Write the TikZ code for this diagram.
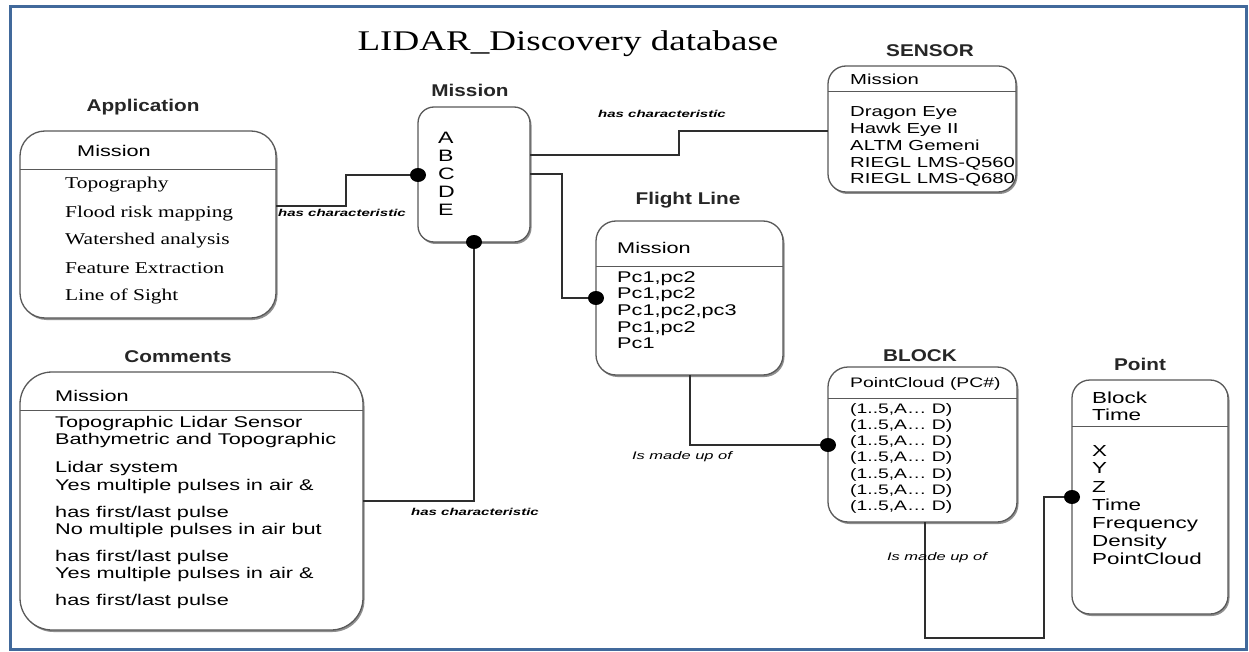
\documentclass[tikz,border=0pt]{standalone}
\usepackage{fontspec}
\usetikzlibrary{shadows,calc}
\newfontfamily\wsans[FakeStretch=1.4]{Liberation Sans}
\newfontfamily\wserif[FakeStretch=1.3]{Liberation Serif}
\newfontfamily\hsans[FakeStretch=1.22]{Liberation Sans}
\newfontfamily\lsans[FakeStretch=1.5]{Liberation Sans}
\definecolor{frameblue}{HTML}{41699B}
\begin{document}
\begin{tikzpicture}[x=1pt,y=-1pt,
 entity/.style={draw=black!65, line width=1.3pt, rounded corners=#1, fill=white,
   drop shadow={shadow xshift=1.5pt,shadow yshift=-2pt,fill=black!55,opacity=0.8},
   anchor=north west, inner sep=0pt, outer sep=0pt},
 divider/.style={draw=black!65, line width=1pt},
 conn/.style={draw=black!82, line width=2.4pt},
 blob/.style={fill=black},
 ttl/.style={font=\wserif\fontsize{28.5}{30}\selectfont, anchor=base, inner sep=0pt},
 hdr/.style={font=\hsans\bfseries\fontsize{17}{19}\selectfont, anchor=base, inner sep=0pt, text=black!85},
 sitem/.style={font=\wsans\fontsize{15.5}{17}\selectfont, anchor=base west, inner sep=0pt},
 misitem/.style={font=\wsans\fontsize{16.5}{18}\selectfont, anchor=base west, inner sep=0pt},
 senitem/.style={font=\wsans\fontsize{14.5}{16}\selectfont, anchor=base west, inner sep=0pt},
 blkitem/.style={font=\wsans\fontsize{13.8}{15}\selectfont, anchor=base west, inner sep=0pt},
 ptitem/.style={font=\wsans\fontsize{16}{18}\selectfont, anchor=base west, inner sep=0pt},
 seritem/.style={font=\wserif\fontsize{16.5}{18}\selectfont, anchor=base west, inner sep=0pt},
 rel/.style={font=\lsans\bfseries\itshape\fontsize{10}{11}\selectfont, anchor=center, inner sep=0pt},
 made/.style={font=\lsans\itshape\fontsize{11}{12}\selectfont, anchor=center, inner sep=0pt}
]
\useasboundingbox (0,0) rectangle (1249,652);
\fill[white] (0,0) rectangle (1249,652);
\draw[frameblue, line width=3pt] (10,7) rectangle (1246,649);

\node[ttl] (title) at (568,51) {LIDAR\_Discovery database};

% boxes
\node[entity=25pt, minimum width=256pt, minimum height=187pt] (app) at (20,131) {};
\node[entity=16pt, minimum width=112pt, minimum height=135pt] (mis) at (418,107) {};
\node[entity=18pt, minimum width=188pt, minimum height=126pt] (sen) at (828,66) {};
\node[entity=20pt, minimum width=187pt, minimum height=154pt] (fl) at (596,221) {};
\node[entity=32pt, minimum width=343pt, minimum height=258pt] (com) at (20,372) {};
\node[entity=20pt, minimum width=189pt, minimum height=155pt] (blk) at (828,367) {};
\node[entity=18pt, minimum width=156pt, minimum height=234pt] (pt) at (1072,380) {};

% dividers
\draw[divider] ([yshift=-39pt]app.north west) -- ([yshift=-39pt]app.north east);
\draw[divider] ([yshift=-26pt]sen.north west) -- ([yshift=-26pt]sen.north east);
\draw[divider] ([yshift=-45pt]fl.north west) -- ([yshift=-45pt]fl.north east);
\draw[divider] ([yshift=-38pt]com.north west) -- ([yshift=-38pt]com.north east);
\draw[divider] ([yshift=-31pt]blk.north west) -- ([yshift=-31pt]blk.north east);
\draw[divider] ([yshift=-46pt]pt.north west) -- ([yshift=-46pt]pt.north east);

% headings
\node[hdr] (hApp) at (143,112) {Application};
\node[hdr] (hMis) at (470,97) {Mission};
\node[hdr] (hSen) at (930,57) {SENSOR};
\node[hdr] (hFl) at (688,205) {Flight Line};
\node[hdr] (hCom) at (178,362) {Comments};
\node[hdr] (hBlk) at (920,361) {BLOCK};
\node[hdr] (hPt) at (1140,370) {Point};

% Application
\node[sitem] (appK) at (77,157) {Mission};
\node[seritem] (app1) at (65,189) {Topography};
\node[seritem] (app2) at (65,218) {Flood risk mapping};
\node[seritem] (app3) at (65,244) {Watershed analysis};
\node[seritem] (app4) at (65,273) {Feature Extraction};
\node[seritem] (app5) at (65,300) {Line of Sight};

% Mission
\node[misitem] (misA) at (438,144) {A};
\node[misitem] (misB) at (438,162) {B};
\node[misitem] (misC) at (438,180) {C};
\node[misitem] (misD) at (438,198) {D};
\node[misitem] (misE) at (438,216) {E};

% Sensor
\node[senitem] (senK) at (850,85) {Mission};
\node[senitem] (sen1) at (850,117) {Dragon Eye};
\node[senitem] (sen2) at (850,134) {Hawk Eye II};
\node[senitem] (sen3) at (850,151) {ALTM Gemeni};
\node[senitem] (sen4) at (850,168) {RIEGL LMS-Q560};
\node[senitem] (sen5) at (850,184) {RIEGL LMS-Q680};

% Flight line
\node[sitem] (flK) at (617,254) {Mission};
\node[sitem] (fl1) at (617,282) {Pc1,pc2};
\node[sitem] (fl2) at (617,298) {Pc1,pc2};
\node[sitem] (fl3) at (617,315) {Pc1,pc2,pc3};
\node[sitem] (fl4) at (617,332) {Pc1,pc2};
\node[sitem] (fl5) at (617,348) {Pc1};

% Comments
\node[sitem] (comK) at (55,401) {Mission};
\node[sitem] (com1) at (55,427) {Topographic Lidar Sensor};
\node[sitem] (com2) at (55,444) {Bathymetric and Topographic};
\node[sitem] (com3) at (55,472) {Lidar system};
\node[sitem] (com4) at (55,490) {Yes multiple pulses in air \&};
\node[sitem] (com5) at (55,517) {has first/last pulse};
\node[sitem] (com6) at (55,534) {No multiple pulses in air but};
\node[sitem] (com7) at (55,561) {has first/last pulse};
\node[sitem] (com8) at (55,578) {Yes multiple pulses in air \&};
\node[sitem] (com9) at (55,605) {has first/last pulse};

% Block
\node[blkitem] (blkK) at (850,387) {PointCloud (PC\#)};
\node[blkitem] (blk1) at (850,413) {(1..5,A… D)};
\node[blkitem] (blk2) at (850,429) {(1..5,A… D)};
\node[blkitem] (blk3) at (850,445) {(1..5,A… D)};
\node[blkitem] (blk4) at (850,461) {(1..5,A… D)};
\node[blkitem] (blk5) at (850,478) {(1..5,A… D)};
\node[blkitem] (blk6) at (850,494) {(1..5,A… D)};
\node[blkitem] (blk7) at (850,510) {(1..5,A… D)};

% Point
\node[ptitem] (ptK1) at (1092,403) {Block};
\node[ptitem] (ptK2) at (1092,420) {Time};
\node[ptitem] (pt1) at (1092,456) {X};
\node[ptitem] (pt2) at (1092,473) {Y};
\node[ptitem] (pt3) at (1092,492) {Z};
\node[ptitem] (pt4) at (1092,510) {Time};
\node[ptitem] (pt5) at (1092,528) {Frequency};
\node[ptitem] (pt6) at (1092,546) {Density};
\node[ptitem] (pt7) at (1092,564) {PointCloud};

% connector bend points
\coordinate (c1) at (346,206);
\coordinate (c2) at (346,175);
\coordinate (s1) at (679,155);
\coordinate (s2) at (679,131);
\coordinate (f1) at (562,174);
\coordinate (f2) at (562,298);
\coordinate (k1) at (474,501);
\coordinate (b1) at (690,445);
\coordinate (p1) at (925,638);
\coordinate (p2) at (1044,638);
\coordinate (p3) at (1044,497);

% connectors
\draw[conn] (app.east |- c1) -- (c1) -- (c2) -- (mis.west |- c2);
\draw[conn] (mis.east |- s1) -- (s1) -- (s2) -- (sen.west |- s2);
\draw[conn] (mis.east |- f1) -- (f1) -- (f2) -- (fl.west |- f2);
\draw[conn] (com.east |- k1) -- (k1) -- (mis.south -| k1);
\draw[conn] (fl.south -| b1) -- (b1) -- (blk.west |- b1);
\draw[conn] (blk.south -| p1) -- (p1) -- (p2) -- (p3) -- (pt.west |- p3);

% dots
\fill[blob] (mis.west |- c2) ellipse [x radius=8pt, y radius=7pt];
\fill[blob] (fl.west |- f2) ellipse [x radius=8pt, y radius=7pt];
\fill[blob] (mis.south -| k1) ellipse [x radius=8pt, y radius=7pt];
\fill[blob] (blk.west |- b1) ellipse [x radius=8pt, y radius=7pt];
\fill[blob] (pt.west |- p3) ellipse [x radius=8pt, y radius=7pt];

% relation labels
\node[rel] (r1) at (342,213) {has characteristic};
\node[rel] (r2) at (662,114) {has characteristic};
\node[rel] (r3) at (475,512) {has characteristic};
\node[made] (m1) at (682,457) {Is made up of};
\node[made] (m2) at (937,558) {Is made up of};
\end{tikzpicture}
\end{document}
